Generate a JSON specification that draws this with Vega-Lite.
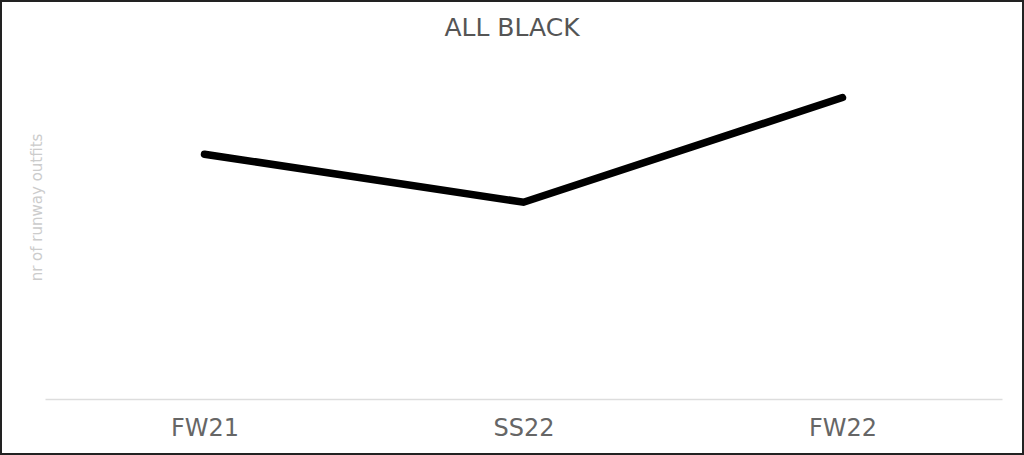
{
  "$schema": "https://vega.github.io/schema/vega-lite/v6.json",
  "width": 1024,
  "height": 455,
  "autosize": {"type": "none"},
  "padding": 0,
  "background": "white",
  "title": {
    "text": "ALL BLACK",
    "font": "DejaVu Sans",
    "fontSize": 25,
    "fontWeight": "normal",
    "color": "#555555",
    "anchor": "middle",
    "baseline": "alphabetic",
    "offset": -61
  },
  "data": {
    "values": [
      {"season": "FW21", "outfits": 25.5},
      {"season": "SS22", "outfits": 20.5},
      {"season": "FW22", "outfits": 31.4}
    ]
  },
  "mark": {"type": "line", "color": "black", "strokeWidth": 7.5, "strokeCap": "round"},
  "encoding": {
    "x": {
      "field": "season",
      "type": "ordinal",
      "sort": null,
      "scale": {"type": "point", "range": [45, 1002], "padding": 0.5},
      "axis": {
        "title": null,
        "offset": -56,
        "domainColor": "#dddddd",
        "domainWidth": 1.5,
        "ticks": false,
        "labelFont": "DejaVu Sans",
        "labelFontSize": 24,
        "labelColor": "#666666",
        "labelPadding": 17,
        "labelAngle": 0
      }
    },
    "y": {
      "field": "outfits",
      "type": "quantitative",
      "scale": {"domain": [0, 40], "range": [399, 15]},
      "axis": {
        "title": "nr of runway outfits",
        "titleFont": "DejaVu Sans",
        "titleFontSize": 15,
        "titleFontWeight": "normal",
        "titleColor": "#cccccc",
        "offset": -45,
        "titlePadding": 1,
        "domain": false,
        "ticks": false,
        "labels": false,
        "grid": false
      }
    }
  },
  "config": {
    "view": {"stroke": "#222222", "strokeWidth": 4},
    "axis": {"grid": false}
  }
}
